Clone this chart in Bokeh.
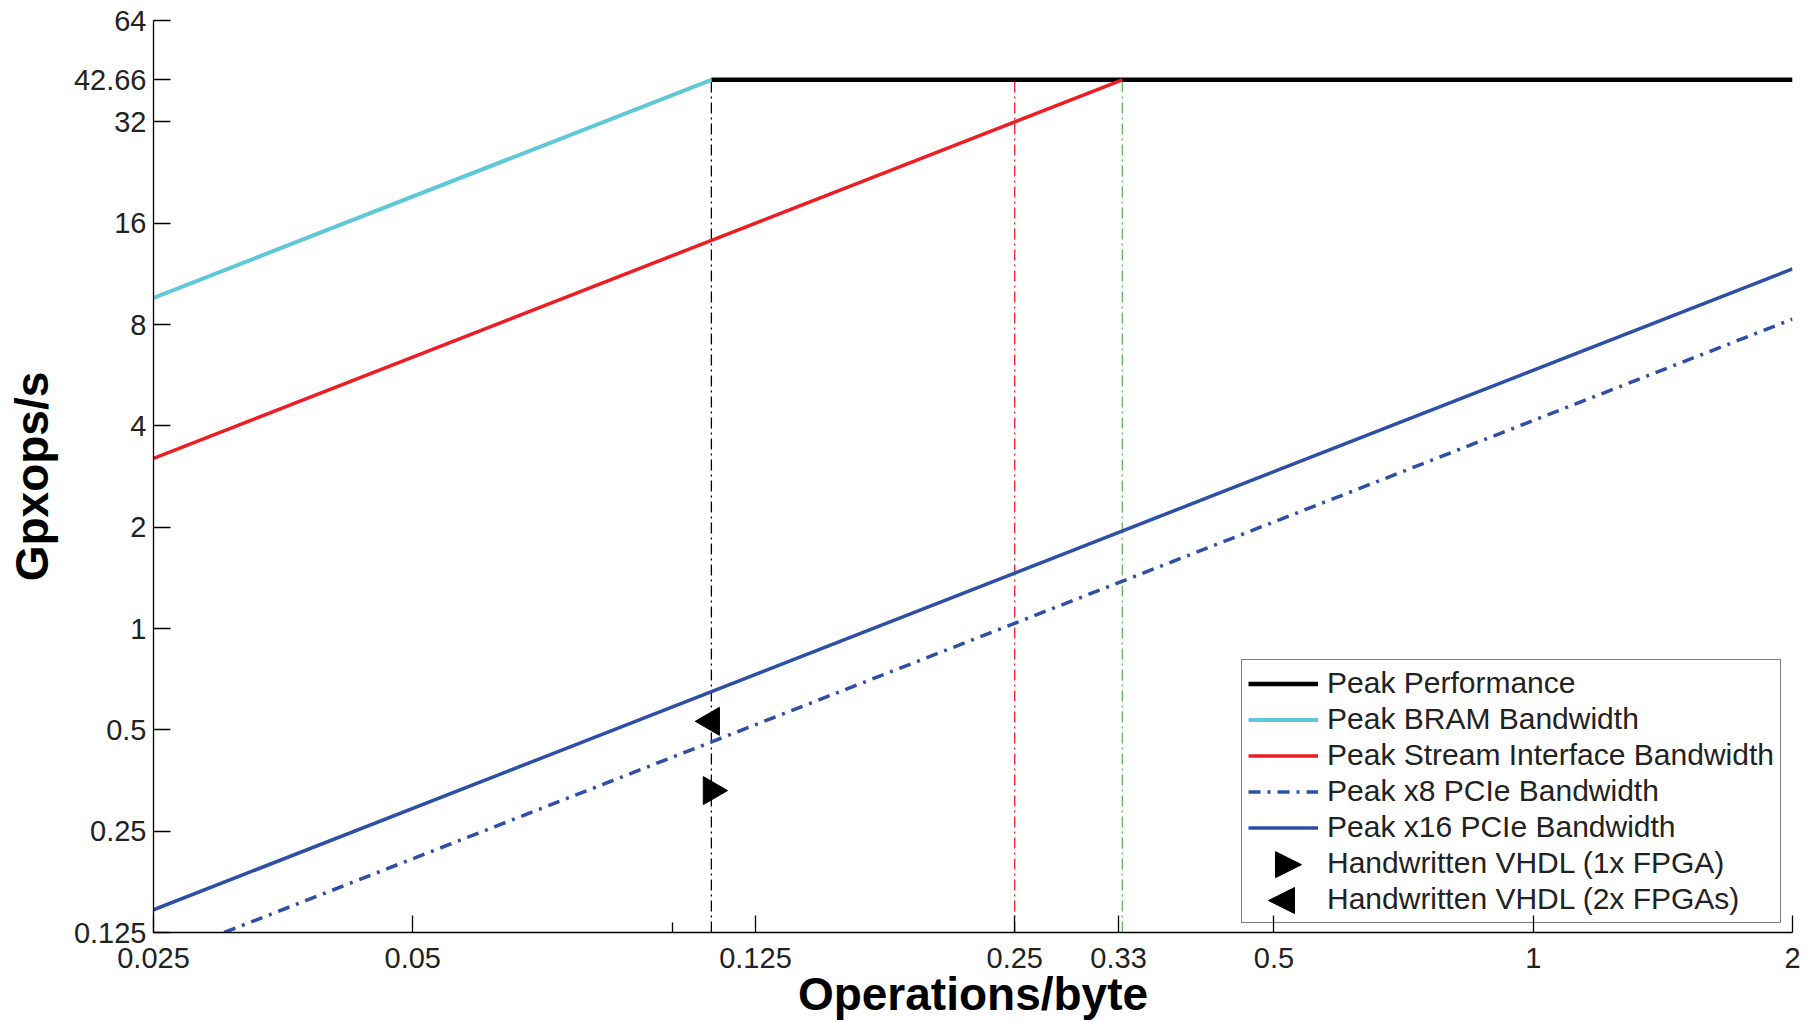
import math
from bokeh.plotting import figure
from bokeh.models import FixedTicker, Legend, LegendItem, Arrow, NormalHead
from bokeh.embed import file_html
from bokeh.resources import INLINE

# ---- data ----
x_ticks = [0.025, 0.05, 0.125, 0.25, 0.33, 0.5, 1, 2]
x_tick_labels = ["0.025", "0.05", "0.125", "0.25", "0.33", "0.5", "1", "2"]
x_minor_ticks = [0.1]
y_ticks = [0.125, 0.25, 0.5, 1, 2, 4, 8, 16, 32, 42.66, 64]
y_tick_labels = ["0.125", "0.25", "0.5", "1", "2", "4", "8", "16", "32", "42.66", "64"]

peak_x = [0.1111, 2]
peak_y = [42.66, 42.66]
bram_x = [0.025, 0.1111]
bram_y = [9.6, 42.66]
stream_x = [0.025, 0.3333]
stream_y = [3.2, 42.66]
pcie8_x = [0.0302, 2]
pcie8_y = [0.125, 8.3]
pcie16_x = [0.025, 2]
pcie16_y = [0.146, 11.7]

ridge_x = [0.1111, 0.25, 0.3333]
ridge_colors = ["black", "#EE1D23", "#5DB85D"]

vhdl1_x = [0.1111]
vhdl1_y = [0.33]
vhdl2_x = [0.1111]
vhdl2_y = [0.53]

FONT = "Liberation Sans"


def overrides(vals, labels):
    d = {}
    for v, s in zip(vals, labels):
        d[float(v)] = s
        d[str(int(v)) if float(v).is_integer() else repr(v)] = s
    return d


p = figure(width=1809, height=1022, x_axis_type="log", y_axis_type="log",
           x_range=(0.025, 2), y_range=(0.125, 64),
           output_backend="svg", toolbar_location=None,
           min_border_left=153, min_border_right=17,
           min_border_top=20, min_border_bottom=90)
p.grid.visible = False
p.outline_line_color = None
p.background_fill_color = "white"
p.border_fill_color = "white"

# vertical ridge-point markers
for xv, c in zip(ridge_x, ridge_colors):
    p.line([xv, xv], [0.125, 42.66], line_color=c, line_width=1.3,
           line_dash="11 4 2 4")

r_peak = p.line(peak_x, peak_y, line_color="black", line_width=4.5)
r_bram = p.line(bram_x, bram_y, line_color="#5EC8D8", line_width=4)
r_stream = p.line(stream_x, stream_y, line_color="#EE1D23", line_width=3.5)
r_p8 = p.line(pcie8_x, pcie8_y, line_color="#2D4FA6", line_width=3.5,
              line_dash="12 7 3 7")
r_p16 = p.line(pcie16_x, pcie16_y, line_color="#2D4FA6", line_width=3.5)
p.scatter(vhdl1_x, vhdl1_y, marker="triangle", size=28,
          angle=-math.pi / 2, fill_color="black", line_color="black")
p.scatter(vhdl2_x, vhdl2_y, marker="triangle", size=28,
          angle=math.pi / 2, fill_color="black", line_color="black")
# invisible stand-ins so the legend rows keep their labels (icons drawn below)
r_v1 = p.scatter(vhdl1_x, vhdl1_y, size=1, fill_alpha=0, line_alpha=0)
r_v2 = p.scatter(vhdl2_x, vhdl2_y, size=1, fill_alpha=0, line_alpha=0)

# axes
for ax in (p.xaxis[0], p.yaxis[0]):
    ax.major_tick_in = 17
    ax.major_tick_out = 0
    ax.minor_tick_in = 10
    ax.minor_tick_out = 0
    ax.axis_line_color = "black"
    ax.axis_line_width = 1.3
    ax.major_tick_line_color = "black"
    ax.major_tick_line_width = 1.3
    ax.minor_tick_line_color = "black"
    ax.minor_tick_line_width = 1.3
    ax.major_label_text_font = FONT
    ax.major_label_text_font_size = "29px"
    ax.major_label_text_color = "#222222"
    ax.axis_label_text_font = FONT
    ax.axis_label_text_font_style = "bold"
    ax.axis_label_text_color = "black"

p.xaxis.ticker = FixedTicker(ticks=x_ticks, minor_ticks=x_minor_ticks)
p.xaxis.major_label_overrides = overrides(x_ticks, x_tick_labels)
p.yaxis.ticker = FixedTicker(ticks=y_ticks, minor_ticks=[])
p.yaxis.major_label_overrides = overrides(y_ticks, y_tick_labels)

p.xaxis.axis_label = "Operations/byte"
p.xaxis.axis_label_text_font_size = "46px"
p.xaxis.major_label_standoff = 15
p.xaxis.axis_label_standoff = -3
p.yaxis.axis_label = "Gpxops/s"
p.yaxis.axis_label_text_font_size = "46px"
p.yaxis.major_label_standoff = 7
p.yaxis.axis_label_standoff = 13

legend = Legend(items=[
    LegendItem(label="Peak Performance", renderers=[r_peak]),
    LegendItem(label="Peak BRAM Bandwidth", renderers=[r_bram]),
    LegendItem(label="Peak Stream Interface Bandwidth", renderers=[r_stream]),
    LegendItem(label="Peak x8 PCIe Bandwidth", renderers=[r_p8]),
    LegendItem(label="Peak x16 PCIe Bandwidth", renderers=[r_p16]),
    LegendItem(label="Handwritten VHDL (1x FPGA)", renderers=[r_v1]),
    LegendItem(label="Handwritten VHDL (2x FPGAs)", renderers=[r_v2]),
], location=(1088, 9))
legend.label_text_font = FONT
legend.label_text_font_size = "30px"
legend.label_text_color = "#222222"
legend.label_height = 33
legend.glyph_height = 33
legend.glyph_width = 70
legend.spacing = 2
legend.padding = 6
legend.margin = 0
legend.label_standoff = 9
legend.border_line_color = "black"
legend.border_line_width = 1.3
legend.background_fill_alpha = 0
p.add_layout(legend)

# legend icons for the two marker rows: side-pointing triangles
# (screen units relative to the plot frame, y measured from its bottom)
row_h = 33.9
row2x_y = 9 + 6 + row_h / 2
row1x_y = row2x_y + row_h + 2
p.add_layout(Arrow(end=NormalHead(size=26, fill_color="black", line_color="black", line_width=1),
                   x_start=1110, y_start=row1x_y, x_end=1148, y_end=row1x_y,
                   start_units="screen", end_units="screen", line_alpha=0,
                   level="overlay"))
p.add_layout(Arrow(end=NormalHead(size=26, fill_color="black", line_color="black", line_width=1),
                   x_start=1155, y_start=row2x_y, x_end=1115, y_end=row2x_y,
                   start_units="screen", end_units="screen", line_alpha=0,
                   level="overlay"))

open("out.html", "w").write(file_html(p, INLINE))
